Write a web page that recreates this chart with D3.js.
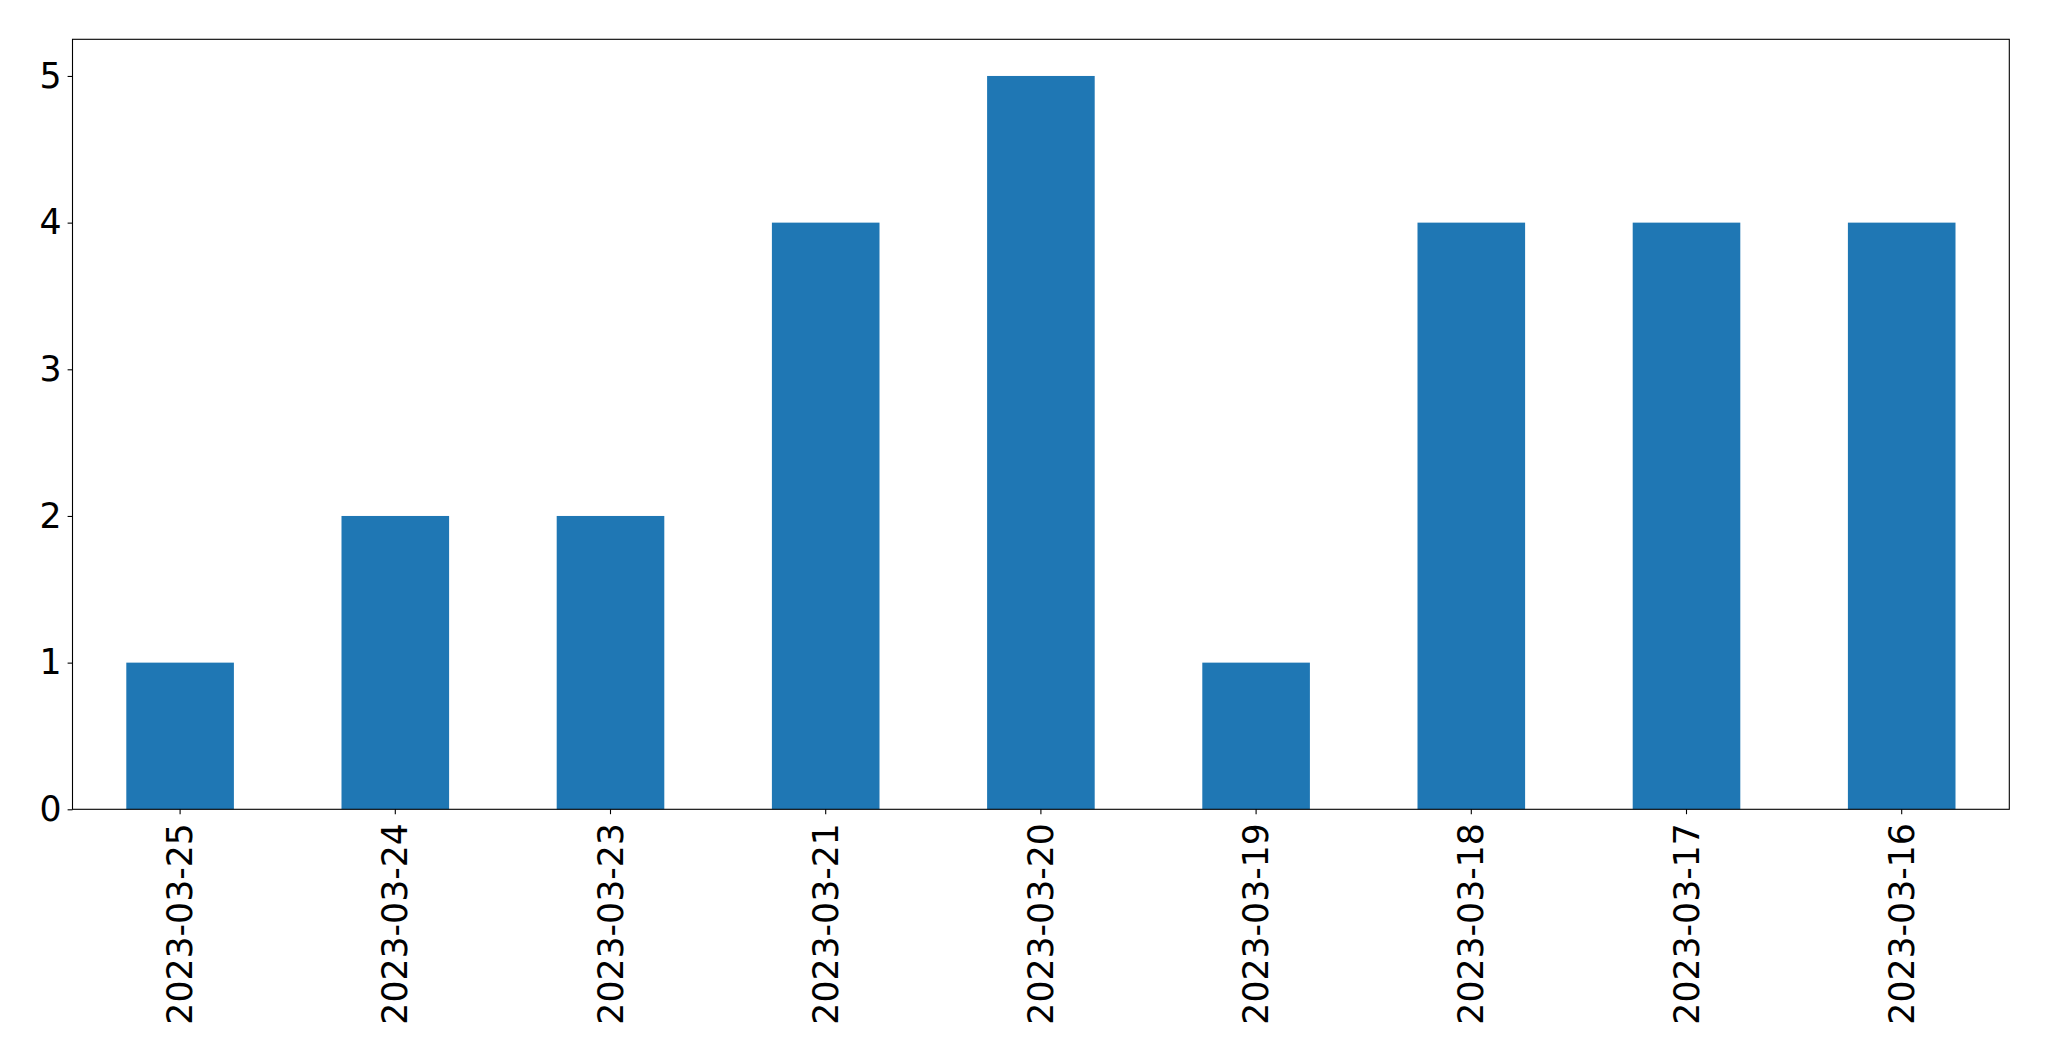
<!DOCTYPE html>
<html>
<head>
<meta charset="utf-8">
<script src="https://cdn.jsdelivr.net/npm/d3@7"></script>
<style>
  body { margin: 0; background: #fff; }
  svg { display: block; }
</style>
</head>
<body>
<div id="chart"></div>
<script>
// data
const dates = ["2023-03-25", "2023-03-24", "2023-03-23", "2023-03-21", "2023-03-20",
               "2023-03-19", "2023-03-18", "2023-03-17", "2023-03-16"];
const counts = [1, 2, 2, 4, 5, 1, 4, 4, 4];
const yTicks = [0, 1, 2, 3, 4, 5];

const width = 2049, height = 1061;
const margin = {top: 39.3, right: 2049 - 2009.3, bottom: 1061 - 809.3, left: 72.5};

const svg = d3.select("#chart").append("svg")
  .attr("width", width)
  .attr("height", height);

// band scale mimics matplotlib's bar(width=0.5) with xlim -0.5..n-0.5
const xScale = d3.scaleBand()
  .domain(dates)
  .range([margin.left, width - margin.right])
  .paddingInner(0.5)
  .paddingOuter(0.25);

const yScale = d3.scaleLinear()
  .domain([0, 5.25])
  .range([height - margin.bottom, margin.top]);

svg.selectAll(".bar")
  .data(counts)
  .join("rect")
  .attr("class", "bar")
  .attr("x", (d, i) => xScale(dates[i]))
  .attr("y", d => yScale(d))
  .attr("width", xScale.bandwidth())
  .attr("height", d => yScale(0) - yScale(d))
  .attr("fill", "#1f77b4");

const fontSize = "34.7px";
const fontFamily = "'DejaVu Sans', sans-serif";

const xAxis = d3.axisBottom(xScale).tickSize(4.9).tickPadding(4.9);
const xAxisGroup = svg.append("g")
  .attr("transform", `translate(0, ${height - margin.bottom})`)
  .call(xAxis);
xAxisGroup.attr("font-family", fontFamily).attr("font-size", fontSize);
xAxisGroup.select(".domain").remove();
xAxisGroup.selectAll(".tick line").attr("stroke", "#000").attr("stroke-width", 1.1);
xAxisGroup.selectAll(".tick text")
  .attr("fill", "#000")
  .attr("text-anchor", "end")
  .attr("dy", "0.35em")
  .attr("transform", "translate(0, 4) rotate(-90)")
  .attr("x", -9.8)
  .attr("y", 0);

const yAxis = d3.axisLeft(yScale).tickValues(yTicks).tickFormat(d3.format("d")).tickSize(4.9).tickPadding(6);
const yAxisGroup = svg.append("g")
  .attr("transform", `translate(${margin.left}, 0)`)
  .call(yAxis);
yAxisGroup.attr("font-family", fontFamily).attr("font-size", fontSize);
yAxisGroup.select(".domain").remove();
yAxisGroup.selectAll(".tick line").attr("stroke", "#000").attr("stroke-width", 1.1);
yAxisGroup.selectAll(".tick text").attr("fill", "#000");

// frame around the plot area
svg.append("rect")
  .attr("x", margin.left)
  .attr("y", margin.top)
  .attr("width", width - margin.left - margin.right)
  .attr("height", height - margin.top - margin.bottom)
  .attr("fill", "none")
  .attr("stroke", "#000")
  .attr("stroke-width", 1.1);
</script>
</body>
</html>
